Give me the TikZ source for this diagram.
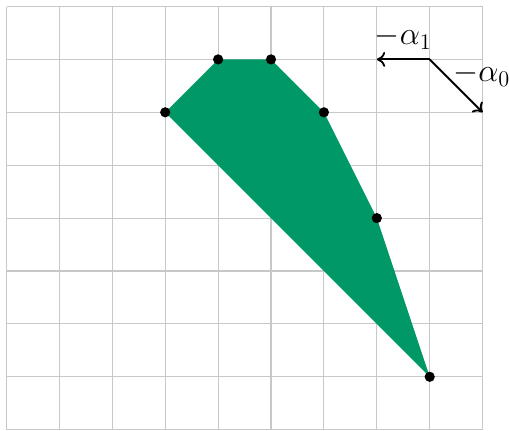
\documentclass[tikz,border=0pt]{standalone}
\usetikzlibrary{arrows.meta}
\definecolor{polygreen}{RGB}{0,152,102}
\definecolor{gridgray}{RGB}{200,200,200}
\begin{document}
\begin{tikzpicture}[x=1cm,y=1cm,
  gridline/.style={draw=gridgray,line width=0.6pt},
  vertex/.style={circle,fill=black,inner sep=0pt,minimum size=5.5pt},
  root/.style={-{To[length=4.5pt,width=8pt]},line width=1pt},
  lab/.style={font=\fontsize{17}{19}\selectfont,inner sep=1pt}]
\useasboundingbox (-0.123,-0.019) rectangle (9.499,8.123);
\draw[gridline] (0,0) grid (9,8);
\fill[polygreen] (3,6) -- (4,7) -- (5,7) -- (6,6) -- (7,4) -- (8,1) -- cycle;
\node[vertex] (p1) at (3,6) {};
\node[vertex] (p2) at (4,7) {};
\node[vertex] (p3) at (5,7) {};
\node[vertex] (p4) at (6,6) {};
\node[vertex] (p5) at (7,4) {};
\node[vertex] (p6) at (8,1) {};
\coordinate (o) at (8,7);
\coordinate (a1) at (7,7);
\coordinate (a0) at (9,6);
\draw[root] (o) -- node[lab,above,yshift=4pt] {$-\alpha_1$} (a1);
\draw[root] (o) -- node[lab,above right,xshift=-3pt,yshift=-2pt] {$-\alpha_0$} (a0);
\end{tikzpicture}
\end{document}
